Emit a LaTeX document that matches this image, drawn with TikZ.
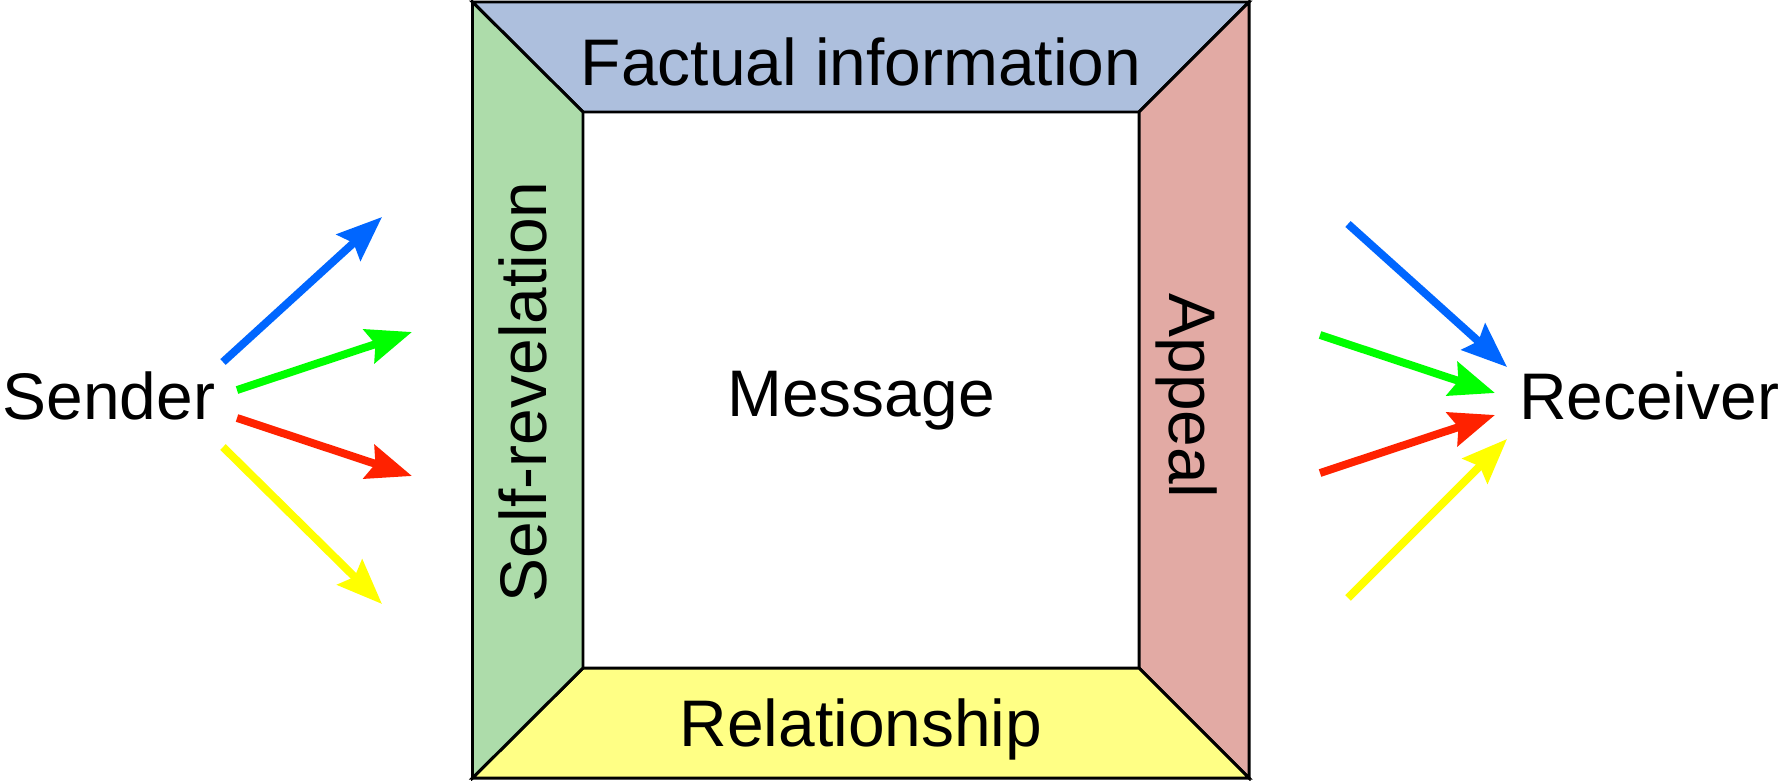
\documentclass[tikz,border=0pt]{standalone}
\usepackage{fontspec}
\setmainfont{Liberation Sans}
\usetikzlibrary{arrows.meta}
\definecolor{cTop}{RGB}{173,191,221}
\definecolor{cLeft}{RGB}{173,220,170}
\definecolor{cRight}{RGB}{226,170,164}
\definecolor{cBot}{RGB}{255,255,133}
\definecolor{aBlue}{RGB}{0,102,255}
\definecolor{aGreen}{RGB}{0,255,0}
\definecolor{aRed}{RGB}{255,34,0}
\definecolor{aYellow}{RGB}{255,255,0}
\tikzset{
  panel/.style={draw=black,line width=1.7pt,line join=miter},
  lbl/.style={font=\fontsize{37.5}{45}\selectfont,inner sep=0pt},
  arr/.style={line width=4.5pt,-{Stealth[length=0.9cm,width=0.7cm,inset=0.13cm]}}
}
\begin{document}
\begin{tikzpicture}[x=0.02cm,y=-0.02cm]
\useasboundingbox (0,0) rectangle (1782,781);
% corners
\coordinate (O1) at (472.5,2);
\coordinate (O2) at (1249,2);
\coordinate (O3) at (1249,778);
\coordinate (O4) at (472.5,778);
\coordinate (I1) at (583,112);
\coordinate (I2) at (1139,112);
\coordinate (I3) at (1139,668);
\coordinate (I4) at (583,668);
\fill[white] (I1) rectangle (I3);
\draw[panel,fill=cTop] (O1) -- (O2) -- (I2) -- (I1) -- cycle;
\draw[panel,fill=cRight] (O2) -- (O3) -- (I3) -- (I2) -- cycle;
\draw[panel,fill=cBot] (O3) -- (O4) -- (I4) -- (I3) -- cycle;
\draw[panel,fill=cLeft] (O4) -- (O1) -- (I1) -- (I4) -- cycle;
% labels
\node[lbl] (fact) at (861,62) {Factual information};
\node[lbl] (rel) at (861,729) {Relationship};
\node[lbl,rotate=90] (self) at (523,392) {Self-revelation};
\node[lbl,rotate=-90] (app) at (1187,396) {Appeal};
\node[lbl] (msg) at (861,401) {Message};
\node[lbl] (send) at (109,396) {Sender};
\node[lbl] (recv) at (1649,396) {Receiver};
% arrow endpoints
\coordinate (sb0) at (223,362); \coordinate (sb1) at (382,217);
\coordinate (sg0) at (237,390); \coordinate (sg1) at (412,332);
\coordinate (sr0) at (237,418); \coordinate (sr1) at (412,476);
\coordinate (sy0) at (223,447); \coordinate (sy1) at (382,604);
\coordinate (rb0) at (1348,224); \coordinate (rb1) at (1507,367);
\coordinate (rg0) at (1320,335); \coordinate (rg1) at (1495,393);
\coordinate (rr0) at (1320,473); \coordinate (rr1) at (1495,415);
\coordinate (ry0) at (1348,598); \coordinate (ry1) at (1507,439);
\draw[arr,aBlue] (sb0) -- (sb1);
\draw[arr,aGreen] (sg0) -- (sg1);
\draw[arr,aRed] (sr0) -- (sr1);
\draw[arr,aYellow] (sy0) -- (sy1);
\draw[arr,aBlue] (rb0) -- (rb1);
\draw[arr,aGreen] (rg0) -- (rg1);
\draw[arr,aRed] (rr0) -- (rr1);
\draw[arr,aYellow] (ry0) -- (ry1);
\end{tikzpicture}
\end{document}
